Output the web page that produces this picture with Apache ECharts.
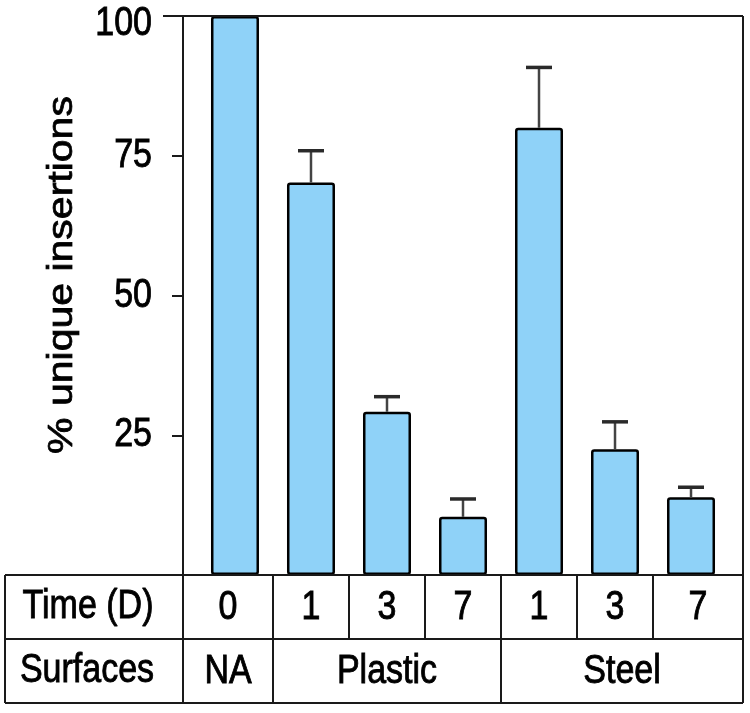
<!DOCTYPE html>
<html>
<head>
<meta charset="utf-8">
<script src="https://cdn.jsdelivr.net/npm/echarts@6/dist/echarts.min.js"></script>
<style>
html,body{margin:0;padding:0;background:#fff;}
#c{width:750px;height:713px;}
</style>
</head>
<body>
<div id="c"></div>
<script>
// ---- data ----
const timeLabels = ['0', '1', '3', '7', '1', '3', '7'];
const surfaceGroups = ['NA', 'Plastic', 'Steel'];
const surfaceSpans = [1, 3, 3];
const values = [100, 70.2, 29.2, 10.4, 80.0, 22.5, 13.9];
const errors = [0, 5.7, 2.7, 3.2, 10.8, 4.9, 1.8];
const yTicks = [0, 25, 50, 75, 100];
const yTitle = '% unique insertions';
const rowTitles = ['Time (D)', 'Surfaces'];

const SANS = "'Liberation Sans', Arial, sans-serif";
const LINE = '#1a1a1a';
const SQ = 0.85; // horizontal condensation of the lettering

const chart = echarts.init(document.getElementById('c'));
const xMin = -0.684, xMax = 6.684;

chart.setOption({
  animation: false,
  grid: { left: 183, right: 7, top: 16, bottom: 138 },
  xAxis: { type: 'value', min: xMin, max: xMax, show: false },
  yAxis: {
    type: 'value', min: yTicks[0], max: yTicks[yTicks.length - 1], interval: 25,
    axisLine: { show: true, onZero: false, lineStyle: { color: LINE, width: 2 } },
    axisTick: { show: true, length: 11, lineStyle: { color: LINE, width: 2 } },
    axisLabel: { show: false },
    splitLine: { show: false }
  },
  series: [
    {
      type: 'bar',
      data: values.map((v, i) => [i, v]),
      barWidth: 48,
      itemStyle: { color: '#8fd2f8', borderColor: '#000', borderWidth: 2.5, borderRadius: 2 },
      z: 2
    },
    {
      type: 'custom',
      data: values.map((v, i) => [i, v, errors[i]]),
      z: 3,
      renderItem: function (params, api) {
        const x = api.value(0), v = api.value(1), e = api.value(2);
        if (!e) return null;
        const p0 = api.coord([x, v]);
        const p1 = api.coord([x, v + e]);
        return {
          type: 'group',
          children: [
            { type: 'line', shape: { x1: p0[0], y1: p0[1], x2: p1[0], y2: p1[1] }, style: { stroke: '#444', lineWidth: 2.5 } },
            { type: 'line', shape: { x1: p1[0] - 13, y1: p1[1], x2: p1[0] + 13, y2: p1[1] }, style: { stroke: '#2a2a2a', lineWidth: 3.5 } }
          ]
        };
      }
    }
  ]
});

// ---- frame & table built from the axis scale ----
const px = v => chart.convertToPixel({ xAxisIndex: 0 }, v);
const py = v => chart.convertToPixel({ yAxisIndex: 0 }, v);
const bounds = [px(xMin)];
for (let k = 1; k < timeLabels.length; k++) bounds.push(px(k - 0.5));
bounds.push(px(xMax));

const yTop = py(100), y0 = py(0);
const rowH = 64;
const y1 = y0 + rowH, y2 = y0 + 2 * rowH;
const tableLeft = 5, right = bounds[bounds.length - 1];

const g = [];
const ln = (x1, ya, x2, yb, w) => g.push({ type: 'line', shape: { x1: x1, y1: ya, x2: x2, y2: yb }, style: { stroke: LINE, lineWidth: w || 2 }, z: 10 });

// frame
ln(163, yTop, right, yTop);
ln(right, yTop, right, y2);
ln(bounds[0], y0, bounds[0], y2);
// table lines
ln(tableLeft, y0, right, y0);
ln(tableLeft, y1, right, y1);
ln(tableLeft, y2, right, y2);
ln(tableLeft, y0, tableLeft, y2);
for (let k = 1; k < bounds.length - 1; k++) ln(bounds[k], y0, bounds[k], y1);
let idx = 0;
const groupBounds = [bounds[0]];
surfaceSpans.forEach(s => { idx += s; groupBounds.push(bounds[idx]); });
for (let k = 1; k < groupBounds.length - 1; k++) ln(groupBounds[k], y1, groupBounds[k], y2);

const txt = (t, x, y, align) => g.push({
  type: 'text', x: x, y: y, z: 11, scaleX: SQ,
  style: { text: t, fontSize: 40, fontFamily: SANS, fill: '#000', stroke: '#000', lineWidth: 0.9, align: align || 'center', verticalAlign: 'middle' }
});
// y tick labels
yTicks.forEach(v => { if (v !== 0) txt(String(v), 152, Math.max(py(v), 24), 'right'); });
// row titles
txt(rowTitles[0], 88, (y0 + y1) / 2);
txt(rowTitles[1], 87, (y1 + y2) / 2);
// time labels
timeLabels.forEach((t, i) => txt(t, (bounds[i] + bounds[i + 1]) / 2, (y0 + y1) / 2 + 1));
// surface labels
surfaceGroups.forEach((t, i) => txt(t, (groupBounds[i] + groupBounds[i + 1]) / 2, (y1 + y2) / 2 + 1));

// y title (rotated)
g.push({
  type: 'text', x: 62, y: 275, rotation: Math.PI / 2, scaleY: SQ, z: 11,
  style: { text: yTitle, fontSize: 41, fontFamily: SANS, fill: '#000', stroke: '#000', lineWidth: 0.9, align: 'center', verticalAlign: 'middle' }
});

chart.setOption({ graphic: g });
</script>
</body>
</html>
